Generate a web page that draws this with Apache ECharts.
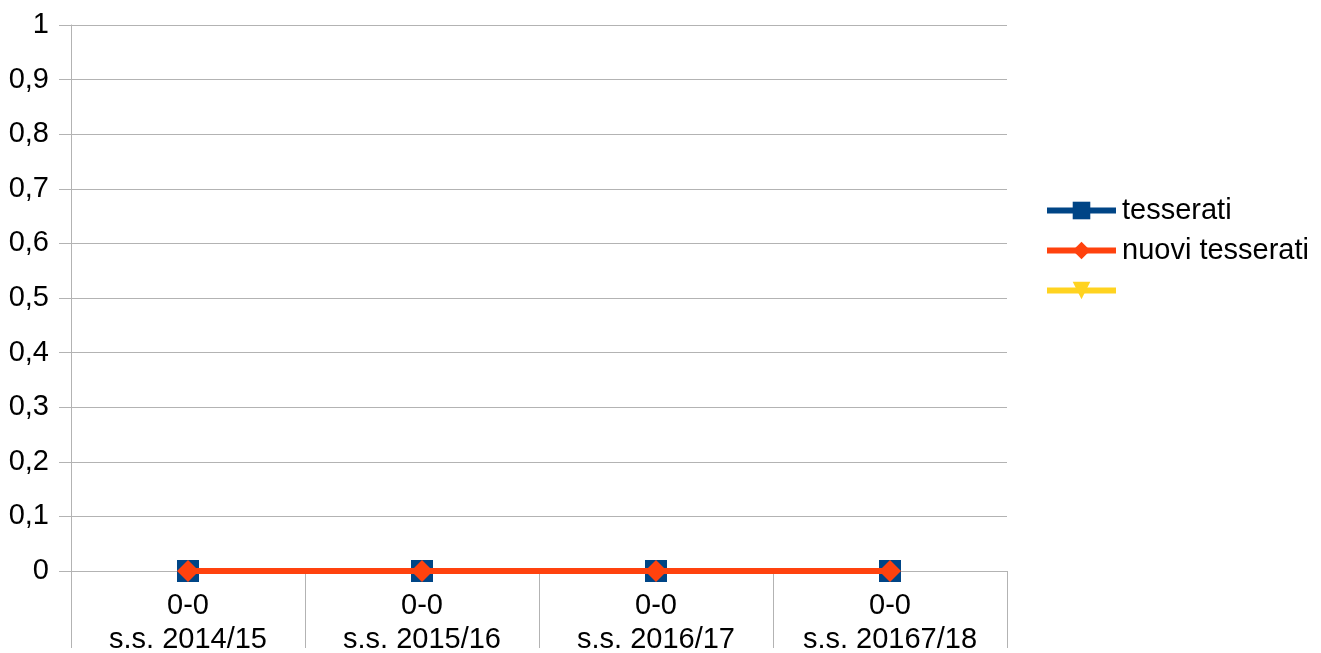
<!DOCTYPE html>
<html>
<head>
    <meta charset="utf-8" />
    <title></title>
    <script src="https://cdn.jsdelivr.net/npm/echarts@6/dist/echarts.min.js"></script>
</head>
<body style="margin:0">
    <div id="main" style="width: 1321px;height:653px;"></div>
<script type="text/javascript">
    var categories = ['0-0\ns.s. 2014/15', '0-0\ns.s. 2015/16', '0-0\ns.s. 2016/17', '0-0\ns.s. 20167/18'];
    var tesserati = [0, 0, 0, 0];
    var nuoviTesserati = [0, 0, 0, 0];
    var terza = [null, null, null, null];
    var yTicks = [0, 0.1, 0.2, 0.3, 0.4, 0.5, 0.6, 0.7, 0.8, 0.9, 1];

    var myChart = echarts.init(document.getElementById('main'));
    var font = 'Liberation Sans';

    option = {
        animation: false,
        textStyle: { fontFamily: font },
        grid: { left: 71, right: 314, top: 25, bottom: 82, containLabel: false, outerBoundsMode: 'none' },
        legend: {
            orient: 'vertical',
            left: 1044,
            top: 196,
            padding: 0,
            itemWidth: 69,
            itemHeight: 22,
            itemGap: 11,
            data: ['tesserati', 'nuovi tesserati', ' '],
            lineStyle: { width: 6 },
            textStyle: { fontSize: 29, color: '#000', fontFamily: font, padding: [0, 0, 0, 1] }
        },
        xAxis: {
            type: 'category',
            data: categories,
            boundaryGap: true,
            axisLine: { lineStyle: { color: '#b3b3b3' } },
            axisTick: { show: true, length: 77, lineStyle: { color: '#b3b3b3' } },
            axisLabel: { fontSize: 29, color: '#000', lineHeight: 34, margin: 18 },
            splitLine: { show: false }
        },
        yAxis: {
            type: 'value',
            min: yTicks[0],
            max: yTicks[yTicks.length - 1],
            interval: 0.1,
            axisLine: { show: true, lineStyle: { color: '#b3b3b3' } },
            axisTick: { show: true, length: 12, lineStyle: { color: '#b3b3b3' } },
            axisLabel: {
                fontSize: 29, color: '#000', margin: 22,
                formatter: function (v) { return String(Math.round(v * 10) / 10).replace('.', ','); }
            },
            splitLine: { lineStyle: { color: '#b3b3b3' } }
        },
        series: [
            {
                name: 'tesserati',
                type: 'line',
                data: tesserati,
                symbol: 'rect',
                symbolSize: 22,
                color: '#004586',
                lineStyle: { width: 6, color: '#004586' },
                itemStyle: { color: '#004586' },
                z: 2
            },
            {
                name: 'nuovi tesserati',
                type: 'line',
                data: nuoviTesserati,
                symbol: 'diamond',
                symbolSize: 22,
                color: '#ff420e',
                lineStyle: { width: 6, color: '#ff420e' },
                itemStyle: { color: '#ff420e' },
                z: 3
            },
            {
                name: ' ',
                type: 'line',
                data: terza,
                symbol: 'triangle',
                symbolRotate: 180,
                symbolSize: 20,
                color: '#ffd320',
                lineStyle: { width: 6, color: '#ffd320' },
                itemStyle: { color: '#ffd320' },
                z: 1
            }
        ]
    };

    myChart.setOption(option);
</script>
</body>
</html>
